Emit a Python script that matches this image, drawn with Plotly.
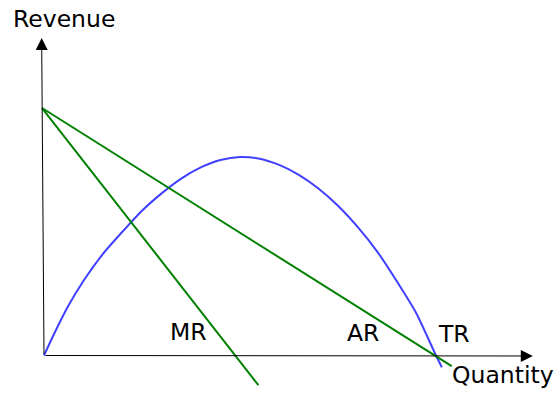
import plotly.graph_objects as go

# ---- data (arbitrary units) ----
tr_q = [0, 0.25, 0.6, 1.0, 1.5, 2.0, 2.5, 3.0, 3.5, 4.0, 4.5, 5.0, 5.5, 6.0, 6.5, 7.0,
        7.5, 8.0, 8.5, 9.0, 9.5, 10.0, 10.15]
tr_r = [0, 0.85, 1.95, 3.0, 4.1, 5.0, 5.85, 6.55, 7.15, 7.6, 7.9, 8.02, 7.95, 7.7, 7.3, 6.75,
        6.05, 5.2, 4.2, 3.0, 1.7, 0.0, -0.48]

ar_q = [-0.05, 10.40]
ar_r = [10.0, -0.43]

mr_q = [-0.05, 5.47]
mr_r = [10.0, -1.20]

# axis arrows: (tail, head)
yaxis_q = [0.0, -0.06]
yaxis_r = [0.0, 12.83]
xaxis_q = [0.0, 12.47]
xaxis_r = [0.0, -0.02]

labels = ["Revenue", "Quantity", "MR", "AR", "TR"]

W, H = 560, 400
X0, X1 = -1.1224, 13.163
Y0, Y1 = -1.798, 14.364

fig = go.Figure()
fig.add_trace(go.Scatter(x=tr_q, y=tr_r, mode="lines",
                         line=dict(color="#4040ff", width=2, shape="spline", smoothing=0.6),
                         hoverinfo="skip"))
fig.add_trace(go.Scatter(x=ar_q, y=ar_r, mode="lines",
                         line=dict(color="#008000", width=2), hoverinfo="skip"))
fig.add_trace(go.Scatter(x=mr_q, y=mr_r, mode="lines",
                         line=dict(color="#008000", width=2), hoverinfo="skip"))

annotations = []
for qs, rs in [(yaxis_q, yaxis_r), (xaxis_q, xaxis_r)]:
    annotations.append(dict(x=qs[1], y=rs[1], ax=qs[0], ay=rs[0],
                            xref="x", yref="y", axref="x", ayref="y",
                            text="", showarrow=True, arrowhead=2,
                            arrowsize=2.4, arrowwidth=1, arrowcolor="#000000"))

label_pos = [(64, 18.7), (502.5, 374.5), (188.5, 332), (363, 333), (453.5, 334)]
for txt, (px, py) in zip(labels, label_pos):
    annotations.append(dict(x=px / W, y=1 - py / H, xref="paper", yref="paper",
                            text=txt, showarrow=False, xanchor="center", yanchor="middle",
                            font=dict(family="DejaVu Sans", size=23.5, color="#000000")))

fig.update_layout(
    width=W, height=H,
    margin=dict(l=0, r=0, t=0, b=0),
    paper_bgcolor="white", plot_bgcolor="white",
    showlegend=False,
    xaxis=dict(range=[X0, X1], visible=False, fixedrange=True),
    yaxis=dict(range=[Y0, Y1], visible=False, fixedrange=True),
    annotations=annotations,
)

fig.write_html("out.html", config={"displayModeBar": False},
               post_script="document.body.style.margin='0';document.body.style.overflow='hidden';")
